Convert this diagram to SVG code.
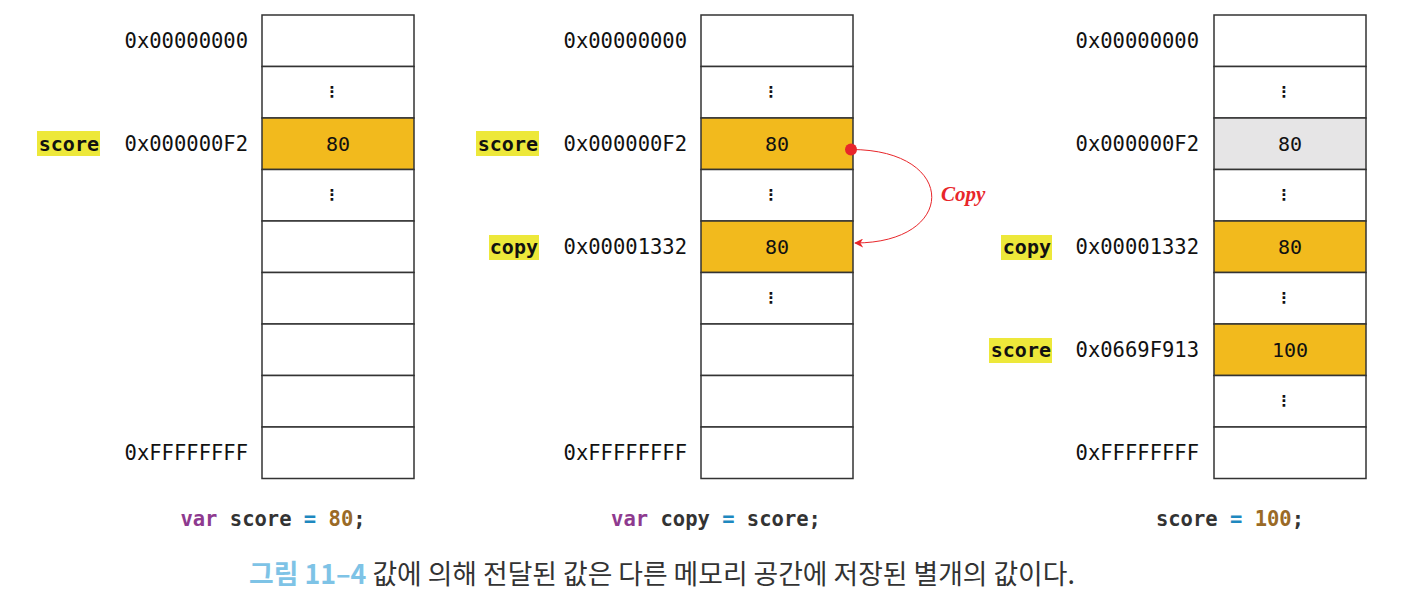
<svg xmlns="http://www.w3.org/2000/svg" width="1404" height="600" viewBox="0 0 1404 600">
<style>
.cell{fill:#fff;stroke:#333;stroke-width:1.5}
.hot{fill:#F2BA1D;stroke:#333;stroke-width:1.5}
.gray{fill:#E6E5E6;stroke:#333;stroke-width:1.5}
.addr{font-family:"DejaVu Sans Mono","Liberation Mono",monospace;font-size:20.5px;fill:#111;text-anchor:end}
.val{font-family:"DejaVu Sans Mono","Liberation Mono",monospace;font-size:20px;fill:#111;text-anchor:middle}
.dots{font-family:"DejaVu Sans","Noto Sans",sans-serif;font-size:15px;font-weight:bold;fill:#111;text-anchor:middle}
.hl{fill:#EDE83A}
.lbl{font-family:"DejaVu Sans Mono","Liberation Mono",monospace;font-size:20px;font-weight:bold;fill:#111;text-anchor:end}
.code{font-family:"DejaVu Sans Mono","Liberation Mono",monospace;font-size:20.5px;font-weight:bold;fill:#333;text-anchor:middle}
.kw{fill:#8E3A8F}.op{fill:#1E88BF}.num{fill:#9A6A26}
.cap{font-family:"Noto Sans CJK KR","Noto Sans",sans-serif;font-size:26.8px;fill:#333}
</style>
<defs>
<marker id="ah" viewBox="0 0 10 10" refX="9" refY="5" markerWidth="9" markerHeight="9" orient="auto" markerUnits="userSpaceOnUse">
<path d="M0,0 L10,5 L0,10 L3,5 Z" fill="#E8262A"/>
</marker>
</defs>

<g id="memory-1">
<rect class="cell" x="262" y="15" width="152" height="51.5"/>
<rect class="cell" x="262" y="66.5" width="152" height="51.5"/>
<rect class="hot" x="262" y="118" width="152" height="51.5"/>
<rect class="cell" x="262" y="169.5" width="152" height="51.5"/>
<rect class="cell" x="262" y="221" width="152" height="51.5"/>
<rect class="cell" x="262" y="272.5" width="152" height="51.5"/>
<rect class="cell" x="262" y="324" width="152" height="51.5"/>
<rect class="cell" x="262" y="375.5" width="152" height="51.5"/>
<rect class="cell" x="262" y="427" width="152" height="51.5"/>
<text class="dots" x="332" y="97">⋮</text>
<text class="val" x="338" y="151">80</text>
<text class="dots" x="332" y="200">⋮</text>
<text class="addr" x="248" y="48">0x00000000</text>
<text class="addr" x="248" y="151">0x000000F2</text>
<text class="addr" x="248" y="460">0xFFFFFFFF</text>
<rect class="hl" x="37" y="131" width="63" height="25"/>
<text class="lbl" x="99" y="151">score</text>
<text class="code" x="273" y="526"><tspan class="kw">var</tspan> score <tspan class="op">=</tspan> <tspan class="num">80</tspan>;</text>
</g>

<g id="memory-2">
<rect class="cell" x="701" y="15" width="152" height="51.5"/>
<rect class="cell" x="701" y="66.5" width="152" height="51.5"/>
<rect class="hot" x="701" y="118" width="152" height="51.5"/>
<rect class="cell" x="701" y="169.5" width="152" height="51.5"/>
<rect class="hot" x="701" y="221" width="152" height="51.5"/>
<rect class="cell" x="701" y="272.5" width="152" height="51.5"/>
<rect class="cell" x="701" y="324" width="152" height="51.5"/>
<rect class="cell" x="701" y="375.5" width="152" height="51.5"/>
<rect class="cell" x="701" y="427" width="152" height="51.5"/>
<text class="dots" x="771" y="97">⋮</text>
<text class="val" x="777" y="151">80</text>
<text class="dots" x="771" y="200">⋮</text>
<text class="val" x="777" y="254">80</text>
<text class="dots" x="771" y="303">⋮</text>
<text class="addr" x="687" y="48">0x00000000</text>
<text class="addr" x="687" y="151">0x000000F2</text>
<text class="addr" x="687" y="254">0x00001332</text>
<text class="addr" x="687" y="460">0xFFFFFFFF</text>
<rect class="hl" x="476" y="131" width="63" height="25"/>
<text class="lbl" x="538" y="151">score</text>
<rect class="hl" x="489" y="235" width="50" height="25"/>
<text class="lbl" x="538" y="254">copy</text>
<text class="code" x="716" y="526"><tspan class="kw">var</tspan> copy <tspan class="op">=</tspan> score;</text>
</g>

<g id="memory-3">
<rect class="cell" x="1214" y="15" width="152" height="51.5"/>
<rect class="cell" x="1214" y="66.5" width="152" height="51.5"/>
<rect class="gray" x="1214" y="118" width="152" height="51.5"/>
<rect class="cell" x="1214" y="169.5" width="152" height="51.5"/>
<rect class="hot" x="1214" y="221" width="152" height="51.5"/>
<rect class="cell" x="1214" y="272.5" width="152" height="51.5"/>
<rect class="hot" x="1214" y="324" width="152" height="51.5"/>
<rect class="cell" x="1214" y="375.5" width="152" height="51.5"/>
<rect class="cell" x="1214" y="427" width="152" height="51.5"/>
<text class="dots" x="1284" y="97">⋮</text>
<text class="val" x="1290" y="151">80</text>
<text class="dots" x="1284" y="200">⋮</text>
<text class="val" x="1290" y="254">80</text>
<text class="dots" x="1284" y="303">⋮</text>
<text class="val" x="1290" y="357">100</text>
<text class="dots" x="1284" y="406">⋮</text>
<text class="addr" x="1199" y="48">0x00000000</text>
<text class="addr" x="1199" y="151">0x000000F2</text>
<text class="addr" x="1199" y="254">0x00001332</text>
<text class="addr" x="1199" y="357">0x0669F913</text>
<text class="addr" x="1199" y="460">0xFFFFFFFF</text>
<rect class="hl" x="1001" y="235" width="51" height="25"/>
<text class="lbl" x="1051" y="254">copy</text>
<rect class="hl" x="989" y="338" width="63" height="25"/>
<text class="lbl" x="1051" y="357">score</text>
<text class="code" x="1230" y="526">score <tspan class="op">=</tspan> <tspan class="num">100</tspan>;</text>
</g>

<g id="connectors">
<circle cx="851" cy="149.5" r="6" fill="#E8262A"/>
<path d="M851,149.5 C958,149.5 958,243 855,243" fill="none" stroke="#E8262A" stroke-width="1" marker-end="url(#ah)"/>
<text x="941" y="201" font-family="'Liberation Serif','DejaVu Serif',serif" font-size="21" font-weight="bold" font-style="italic" fill="#E8262A">Copy</text>
</g>

<text class="cap" x="249" y="584"><tspan fill="#7EC3E6" font-weight="bold">그림 11–4</tspan> 값에 의해 전달된 값은 다른 메모리 공간에 저장된 별개의 값이다.</text>
</svg>
